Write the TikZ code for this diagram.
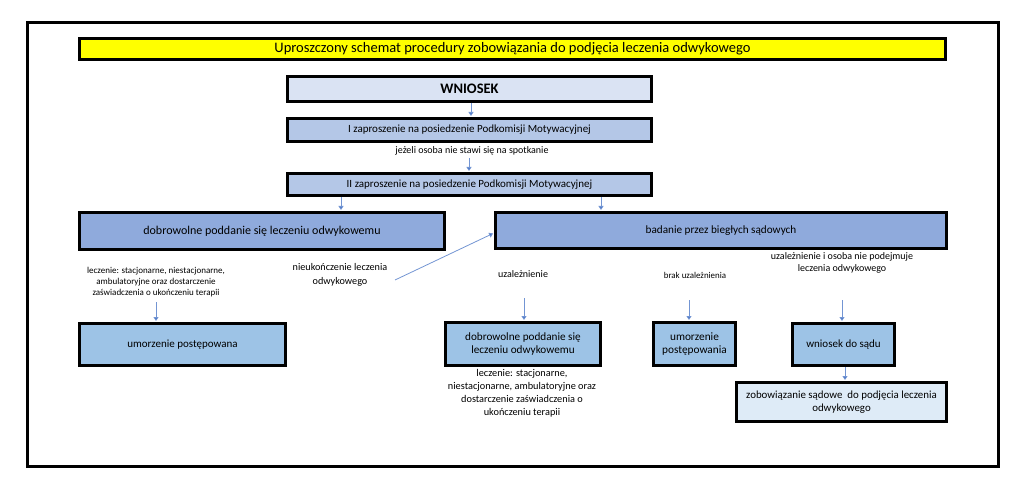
\documentclass[tikz,border=0pt]{standalone}
\usepackage{fontspec}
\setmainfont{Carlito}
\usetikzlibrary{arrows.meta}
\usetikzlibrary{positioning}
\definecolor{titleyellow}{HTML}{FFFF00}
\definecolor{paleblue}{HTML}{DAE3F3}
\definecolor{lightblue}{HTML}{B4C7E7}
\definecolor{midblue}{HTML}{8FAADC}
\definecolor{skyblue}{HTML}{9DC3E6}
\definecolor{iceblue}{HTML}{DEEBF7}
\definecolor{arrowblue}{HTML}{4472C4}
\newcommand{\fs}[2]{\fontsize{#1}{#2}\selectfont}

\begin{document}
\begin{tikzpicture}[x=1pt,y=-1pt,
    box node/.style={draw=black,line width=3pt,inner sep=0pt,align=center},
    small node/.style={inner sep=0pt,align=center},
    arr/.style={draw=arrowblue!75,line width=0.8pt,-{Triangle[width=5pt,length=4pt,fill=arrowblue]},shorten >=1pt}]
   \useasboundingbox (0,0) rectangle (1023,489);
   \draw[line width=3pt] (27.5,23) rectangle (998,466.5);
   % top of the scheme
   \node[box node,fill=titleyellow,minimum width=866pt,minimum height=21pt,font=\fs{14.5}{16}] (title) at (512.5,49)
      {Uproszczony schemat procedury zobowiązania do podjęcia leczenia odwykowego};
   \node[box node,fill=paleblue,minimum width=364pt,minimum height=25pt,font=\fs{14.5}{16}\bfseries] (wniosek) at (469.5,89)
      {WNIOSEK};
   \node[box node,fill=lightblue,minimum width=364pt,minimum height=23pt,font=\fs{11}{12}] (zap1) at (469.5,130)
      {I zaproszenie na posiedzenie Podkomisji Motywacyjnej};
   \node[small node,font=\fs{10}{11}] (jezeli) at (472,151) {jeżeli osoba nie stawi się na spotkanie};
   \node[box node,fill=lightblue,minimum width=364pt,minimum height=22pt,font=\fs{11}{12}] (zap2) at (469.5,184.5)
      {II zaproszenie na posiedzenie Podkomisji Motywacyjnej};
   % second row
   \node[box node,fill=midblue,minimum width=365pt,minimum height=37pt,font=\fs{12}{14}] (dobr1) at (262,231)
      {dobrowolne poddanie się leczeniu odwykowemu};
   \node[box node,fill=midblue,minimum width=451pt,minimum height=36pt,font=\fs{11.2}{13}] (badanie) at (721,230.5)
      {badanie przez biegłych sądowych};
   % labels
   \node[small node,font=\fs{9}{11}] (leczL) at (156,282) {leczenie: stacjonarne, niestacjonarne,\\ambulatoryjne oraz dostarczenie\\zaświadczenia o ukończeniu terapii};
   \node[small node,font=\fs{10.2}{14}] (nieuk) at (340,275) {nieukończenie leczenia\\odwykowego};
   \node[small node,font=\fs{10}{11}] (uzal) at (523,274) {uzależnienie};
   \node[small node,font=\fs{8.9}{10}] (brak) at (695,275) {brak uzależnienia};
   \node[small node,font=\fs{10}{12.5}] (uzos) at (842,263) {uzależnienie i osoba nie podejmuje\\leczenia odwykowego};
   % bottom boxes
   \node[box node,fill=skyblue,minimum width=206pt,minimum height=42pt,font=\fs{11}{13}] (umo1) at (182.5,344.5)
      {umorzenie postępowana};
   \node[box node,fill=skyblue,minimum width=155pt,minimum height=43pt,font=\fs{11.2}{12.5}] (dobr2) at (523,344)
      {dobrowolne poddanie się\\leczeniu odwykowemu};
   \node[small node,font=\fs{10.3}{13}] (leczR) at (522,393.5) {leczenie: stacjonarne,\\niestacjonarne, ambulatoryjne oraz\\dostarczenie zaświadczenia o\\ukończeniu terapii};
   \node[box node,fill=skyblue,minimum width=82pt,minimum height=43pt,font=\fs{11.3}{13.3}] (umo2) at (694.5,344)
      {umorzenie\\postępowania};
   \node[box node,fill=skyblue,minimum width=102pt,minimum height=42pt,font=\fs{11}{12}] (wnsad) at (843.5,344.5)
      {wniosek do sądu};
   \node[box node,fill=iceblue,minimum width=210pt,minimum height=39pt,font=\fs{10.9}{13.3}] (zobow) at (841.5,402)
      {zobowiązanie sądowe\ \ do podjęcia leczenia\\odwykowego};
   % loose ends of connectors
   \coordinate (jz) at (469,158);
   \coordinate (lcL) at (156,302);
   \coordinate (nk) at (395,280);
   \coordinate (uz) at (524,298);
   \coordinate (bk) at (689,300);
   \coordinate (uo) at (842,300);
   % connectors
   \draw[arr] (wniosek.south -| 471,0) -- (zap1.north -| 471,0);
   \draw[arr] (jz) -- (zap2.north -| jz);
   \draw[arr] (zap2.south -| 341,0) -- (dobr1.north -| 341,0);
   \draw[arr] (zap2.south -| 601,0) -- (badanie.north -| 601,0);
   \draw[arr] (lcL) -- (umo1.north -| lcL);
   \draw[arr] (nk) -- (badanie.west |- 0,233);
   \draw[arr] (uz) -- (dobr2.north -| uz);
   \draw[arr] (bk) -- (umo2.north -| bk);
   \draw[arr] (uo) -- (wnsad.north -| uo);
   \draw[arr] (wnsad.south -| 845,0) -- (zobow.north -| 845,0);
\end{tikzpicture}
\end{document}
